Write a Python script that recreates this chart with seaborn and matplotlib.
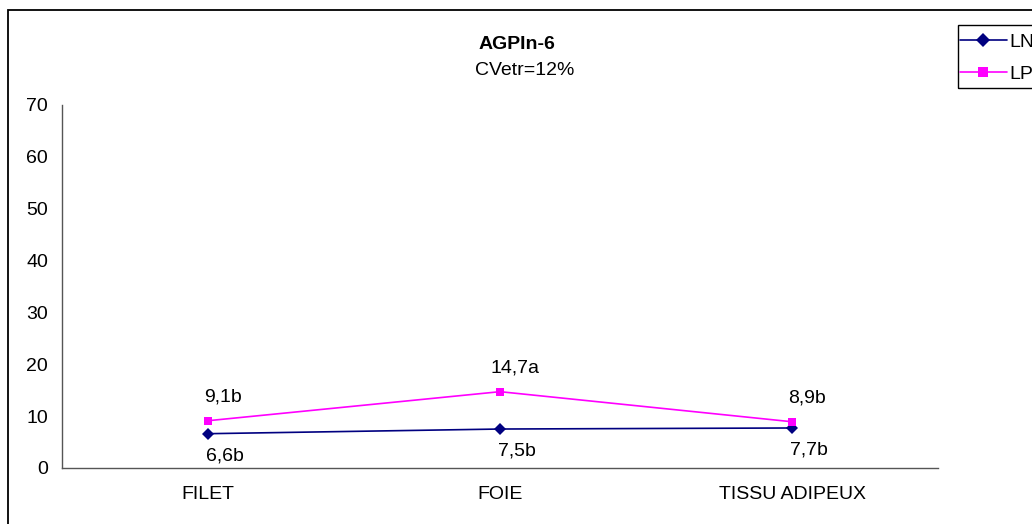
import matplotlib.pyplot as plt
import seaborn as sns
import pandas as pd
from matplotlib.patches import Rectangle
from matplotlib.lines import Line2D

categories = ['FILET', 'FOIE', 'TISSU ADIPEUX']
ln_values = [6.6, 7.5, 7.7]
lp_values = [9.1, 14.7, 8.9]
ln_labels = ['6,6b', '7,5b', '7,7b']
lp_labels = ['9,1b', '14,7a', '8,9b']
series_names = ['LN', 'LP']
yticks = [0, 10, 20, 30, 40, 50, 60, 70]

sns.set_style('white')
plt.rcParams['font.family'] = ['Liberation Sans', 'DejaVu Sans']
plt.rcParams['text.color'] = 'black'
plt.rcParams['xtick.labelcolor'] = 'black'
plt.rcParams['ytick.labelcolor'] = 'black'

df = pd.DataFrame({
    'tissu': categories * 2,
    'pos': list(range(len(categories))) * 2,
    'valeur': ln_values + lp_values,
    'serie': ['LN'] * 3 + ['LP'] * 3,
})

colors = {'LN': '#000080', 'LP': '#FF00FF'}
markers = {'LN': 'D', 'LP': 's'}

fig = plt.figure(figsize=(10.32, 5.24), dpi=100)
ax = fig.add_axes([0.060, 0.107, 0.849, 0.693])

sns.lineplot(data=df, x='pos', y='valeur', hue='serie', style='serie',
             palette=colors, markers=markers, dashes=False, linewidth=1.2,
             markersize=6, markeredgewidth=0, ax=ax, legend=False)

# étiquettes de données
for i, (v, t) in enumerate(zip(lp_values, lp_labels)):
    ax.annotate(t, (i, v), xytext=(11, 14), textcoords='offset points',
                ha='center', va='baseline', fontsize=14)
for i, (v, t) in enumerate(zip(ln_values, ln_labels)):
    ax.annotate(t, (i, v), xytext=(12, -19), textcoords='offset points',
                ha='center', va='baseline', fontsize=14)

ax.set_xlim(-0.5, 2.5)
ax.set_ylim(0, 70)
ax.set_yticks(yticks)
ax.set_xticks([-0.5, 0.5, 1.5, 2.5], minor=False)
ax.set_xticklabels([])
ax.set_xticks(range(len(categories)), minor=True)
ax.set_xticklabels(categories, minor=True)
ax.tick_params(axis='x', which='minor', length=0, pad=13, labelsize=14)
ax.tick_params(axis='x', which='major', length=5, direction='out', color='#555555')
ax.tick_params(axis='y', length=5, direction='out', labelsize=14, color='#555555', pad=5)
ax.set_xlabel('')
ax.set_ylabel('')
for side in ['top', 'right']:
    ax.spines[side].set_visible(False)
for side in ['left', 'bottom']:
    ax.spines[side].set_color('#555555')
    ax.spines[side].set_linewidth(1)

fig.text(517 / 1032, 1 - 49 / 524, 'AGPIn-6', ha='center', va='baseline',
         fontsize=14, fontweight='bold')
fig.text(525 / 1032, 1 - 75 / 524, 'CVetr=12%', ha='center', va='baseline',
         fontsize=14)

# cadre du graphique (coupé à droite et en bas comme l'original)
fig.patches.append(Rectangle((8 / 1032, -0.2), 1.2, 1.2 - 10 / 524,
                             transform=fig.transFigure, fill=False,
                             edgecolor='black', linewidth=1.3))
# cadre de la légende
fig.patches.append(Rectangle((958 / 1032, 1 - 88 / 524), 0.2, 63 / 524,
                             transform=fig.transFigure, fill=False,
                             edgecolor='black', linewidth=1))

handles = [Line2D([0], [0], color=colors[s], marker=markers[s], markersize=7,
                  markeredgewidth=0, linewidth=1.2) for s in series_names]
leg = fig.legend(handles, series_names, loc='upper left',
                 bbox_to_anchor=(960 / 1032, 1 - 33 / 524), frameon=False,
                 fontsize=14, handlelength=2.4, handletextpad=0.15,
                 borderpad=0, labelspacing=0.75, borderaxespad=0)

fig.savefig('out.png', dpi=100)
